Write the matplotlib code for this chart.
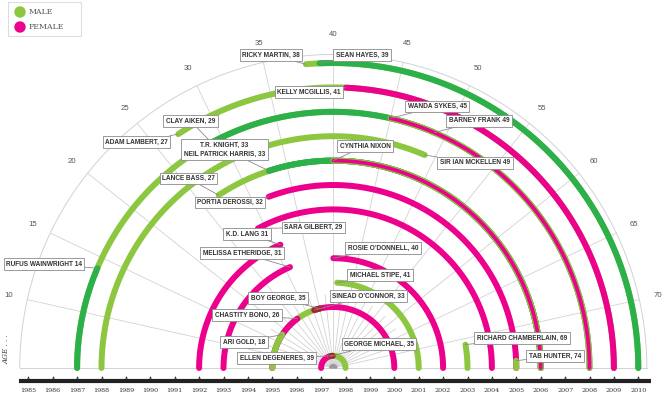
import numpy as np
import matplotlib
matplotlib.use("Agg")
import matplotlib.pyplot as plt
from matplotlib.patches import Rectangle, Circle, Wedge

# ---------------- data ----------------
names = ["RICKY MARTIN", "SEAN HAYES", "ADAM LAMBERT", "KELLY MCGILLIS",
         "RUFUS WAINWRIGHT", "BARNEY FRANK", "CLAY AIKEN", "WANDA SYKES",
         "SIR IAN MCKELLEN", "LANCE BASS", "T.R. KNIGHT", "NEIL PATRICK HARRIS",
         "CYNTHIA NIXON", "PORTIA DEROSSI", "TAB HUNTER", "SARA GILBERT",
         "K.D. LANG", "RICHARD CHAMBERLAIN", "MELISSA ETHERIDGE",
         "ROSIE O'DONNELL", "MICHAEL STIPE", "BOY GEORGE", "CHASTITY BONO",
         "ARI GOLD", "SINEAD O'CONNOR", "ELLEN DEGENERES", "GEORGE MICHAEL"]
years = [2010, 2010, 2009, 2009, 1987, 1987, 2008, 2008, 1988, 2006, 2006, 2006,
         2006, 2005, 2005, 2004, 1992, 2003, 1993, 2002, 2001, 1995, 1995, 1995,
         2000, 1997, 1998]
ages = [38, 39, 27, 41, 14, 49, 29, 45, 49, 27, 33, 33, 40, 32, 74, 29, 31, 71,
        31, 40, 41, 35, 26, 18, 33, 39, 35]
gender = ["M", "M", "M", "F", "M", "M", "M", "F", "M", "M", "M", "M", "F", "F",
          "M", "F", "F", "M", "F", "F", "M", "M", "F", "M", "F", "F", "M"]
tone = ["light", "dark", "light", "", "dark", "light", "dark", "", "light",
        "light", "dark", "dark", "", "", "light", "", "", "light", "", "",
        "light", "light", "", "light", "", "", "light"]
label_text = ["RICKY MARTIN, 38", "SEAN HAYES, 39", "ADAM LAMBERT, 27",
              "KELLY MCGILLIS, 41", "RUFUS WAINWRIGHT 14", "BARNEY FRANK 49",
              "CLAY AIKEN, 29", "WANDA SYKES, 45", "SIR IAN MCKELLEN 49",
              "LANCE BASS, 27", "T.R. KNIGHT, 33\nNEIL PATRICK HARRIS, 33", None,
              "CYNTHIA NIXON", "PORTIA DEROSSI, 32", "TAB HUNTER, 74",
              "SARA GILBERT, 29", "K.D. LANG 31", "RICHARD CHAMBERLAIN, 69",
              "MELISSA ETHERIDGE, 31", "ROSIE O\u2019DONNELL, 40",
              "MICHAEL STIPE, 41", "BOY GEORGE, 35", "CHASTITY BONO, 26",
              "ARI GOLD, 18", "SINEAD O\u2019CONNOR, 33", "ELLEN DEGENERES, 39",
              "GEORGE MICHAEL, 35"]
crossings = [("BOY GEORGE", "SINEAD O'CONNOR"), ("ELLEN DEGENERES", "GEORGE MICHAEL")]
year_ticks = list(range(1985, 2011))
age_ticks = list(range(10, 71, 5))
legend_items = ["MALE", "FEMALE"]

# ---------------- layout (pixels) ----------------
label_px = [(271, 55), (362, 55), (136.5, 142), (309, 92), (44, 264),
            (479, 121), (190.5, 121), (437, 106.5), (475, 163), (188.5, 178.5),
            (224.5, 149.5), None, (365, 146), (230, 202.5), (555, 356),
            (313.5, 227.5), (247, 234), (522, 338), (242, 253), (383, 248),
            (380, 275), (278, 298), (247, 315), (244, 342), (368.5, 296),
            (276.5, 358), (379, 344)]

PX = 24.4
X0 = 1985 - 28.3 / PX
CX = 1997.5


def px(xp, yp):
    return (X0 + xp / PX, (368 - yp) / PX)


def ang(a):
    return np.deg2rad(90 + (40 - a) * 2.58)


LIGHT = "#8dc63f"
DARK = "#2bb04a"
MAG = "#ec008c"
CROSS = "#a3262f"
GRID = "#d2d2d2"

fig = plt.figure(figsize=(6.65, 3.98), dpi=100)
ax = fig.add_axes([0, 0, 1, 1])
ax.set_xlim(X0, X0 + 665 / PX)
ax.set_ylim(-30 / PX, 368 / PX)
ax.axis("off")

# outer ring, base line, spokes
R_OUT = 12.85
t = np.linspace(0, np.pi, 400)
ax.plot(CX + R_OUT * np.cos(t), R_OUT * np.sin(t), color=GRID, lw=0.7, zorder=1)
ax.plot([CX - R_OUT, CX + R_OUT], [0, 0], color=GRID, lw=0.7, zorder=1)
for a in age_ticks:
    th = ang(a)
    ax.plot([CX, CX + R_OUT * np.cos(th)], [0, R_OUT * np.sin(th)],
            color=GRID, lw=0.6, zorder=1)
    ax.text(CX + 13.65 * np.cos(th), 13.65 * np.sin(th), str(a), ha="center",
            va="center", fontsize=5.6, color="#555555", family="Liberation Sans")
    if a < 70:
        th2 = ang(a + 2.5)
        ax.plot([CX, CX + 3.0 * np.cos(th2)], [0, 3.0 * np.sin(th2)],
                color=GRID, lw=0.6, zorder=1)


# arcs
def arc_pts(i, a_from=None, a_to=None):
    r = abs(years[i] - CX)
    start = 0.0 if years[i] > CX else np.pi
    end = ang(ages[i])
    if a_from is not None:
        start, end = a_from, a_to
    th = np.linspace(start, end, 200)
    return CX + r * np.cos(th), r * np.sin(th)


def span(i):
    start = 0.0 if years[i] > CX else np.pi
    return abs(ang(ages[i]) - start)


idx = list(range(len(names)))
left = sorted([i for i in idx if years[i] < CX], key=lambda i: -span(i))
right = sorted([i for i in idx if years[i] > CX], key=lambda i: -span(i))
LW = 4.3
z = 3
for i in left + right:
    x, y = arc_pts(i)
    if gender[i] == "M":
        col = DARK if tone[i] == "dark" else LIGHT
        ax.plot(x, y, color=col, lw=LW, solid_capstyle="round", zorder=z)
    else:
        under_dark = any(abs(years[j] - years[i]) < 0.01 and tone[j] == "dark"
                         for j in idx if j != i)
        if under_dark:
            ax.plot(x, y, color=LIGHT, lw=LW, solid_capstyle="round", zorder=z)
            ax.plot(x, y, color=MAG, lw=LW * 0.62, solid_capstyle="round",
                    zorder=z + 0.1)
        else:
            ax.plot(x, y, color=MAG, lw=LW, solid_capstyle="round", zorder=z)
    z += 0.2

for a_name, b_name in crossings:
    i, j = names.index(a_name), names.index(b_name)
    x, y = arc_pts(i, ang(ages[i]), ang(ages[j]))
    ax.plot(x, y, color=CROSS, lw=LW, solid_capstyle="round", zorder=z + 1)

# centre marker
ax.add_patch(Wedge((CX, 0), 3.5 / PX, 0, 180, color="#9a9a9a", zorder=9))

# labels
for i in idx:
    if label_text[i] is None:
        continue
    r = abs(years[i] - CX)
    th = ang(ages[i])
    tgt = (CX + r * np.cos(th), r * np.sin(th))
    ax.annotate(label_text[i], xy=tgt, xytext=px(*label_px[i]), ha="center",
                va="center", fontsize=4.7, fontweight="bold",
                family="Liberation Sans", color="#333333", linespacing=1.45,
                bbox=dict(boxstyle="square,pad=0.38", fc="white", ec="#8a8a8a",
                          lw=0.6),
                arrowprops=dict(arrowstyle="-", color="#8a8a8a", lw=0.6,
                                shrinkA=0, shrinkB=0),
                zorder=20)

# year axis
bx0, _ = px(19, 0)
bx1, _ = px(651, 0)
_, by = px(0, 380.5)
ax.plot([bx0, bx1], [by, by], color="#222222", lw=3.0, solid_capstyle="butt",
        zorder=5)
for yr in year_ticks:
    ax.plot([yr], [px(0, 377.3)[1]], marker="^", ms=1.8, color="#222222",
            zorder=6, mew=0)
    ax.text(yr, px(0, 390)[1], str(yr), ha="center", va="center", fontsize=4.6,
            color="#333333", family="DejaVu Serif")

ax.text(*px(7, 349), "AGE . . .", rotation=90, ha="center", va="center",
        fontsize=5.2, color="#444444", family="DejaVu Serif", style="italic")

# legend
lx, ly = px(8, 36)
ax.add_patch(Rectangle((lx, ly), 73 / PX, 34 / PX, fc="white", ec="#dddddd",
                       lw=0.8, zorder=25))
for k, (lab, col) in enumerate(zip(legend_items, [LIGHT, MAG])):
    cy = 12 + 15 * k
    ax.add_patch(Circle(px(20, cy), 5 / PX, color=col, zorder=26))
    ax.text(*px(29, cy), lab, ha="left", va="center", fontsize=5.6,
            color="#555555", family="DejaVu Serif", zorder=26)

fig.savefig("out.png", dpi=100)
